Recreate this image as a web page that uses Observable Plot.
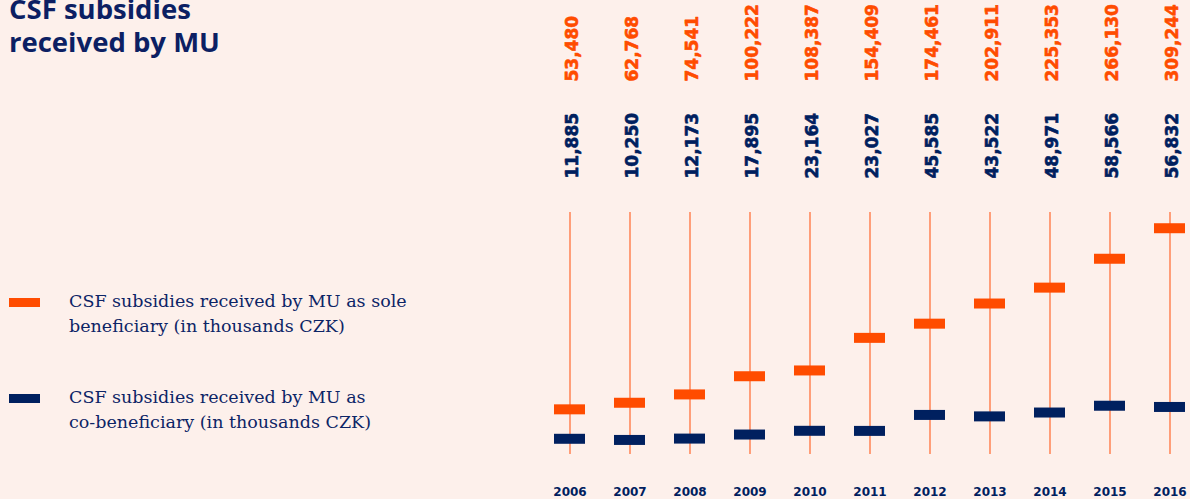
<!DOCTYPE html>
<html>
<head>
<meta charset="utf-8">
<script src="https://cdn.jsdelivr.net/npm/d3@7"></script>
<script src="https://cdn.jsdelivr.net/npm/@observablehq/plot@0.6"></script>
<style>
  html, body { margin: 0; padding: 0; background: #fdf0eb; }
  #wrap { position: relative; width: 1190px; height: 499px; background: #fdf0eb; overflow: hidden; }
  #chart { position: absolute; left: 0; top: 0; }
  .title { position: absolute; left: 9px; font-family: "Open Sans", sans-serif; font-weight: 700; font-size: 27.5px; line-height: 20px; color: #0c1f63; white-space: nowrap; }
  .leg { position: absolute; left: 0; font-family: "DejaVu Serif", serif; font-size: 17.5px; line-height: 25px; color: #0c2466; }
  .leg .sw { position: absolute; left: 9px; width: 31px; height: 9px; }
  .leg .tx { position: absolute; left: 69px; white-space: nowrap; }
</style>
</head>
<body>
<div id="wrap">
  <div id="chart"></div>
  <div class="title" id="t1" style="top:-1px"></div>
  <div class="title" id="t2" style="top:32px"></div>
  <div class="leg" id="leg1" style="top:0"></div>
  <div class="leg" id="leg2" style="top:0"></div>
</div>
<script>
const titleLines = ["CSF subsidies", "received by MU"];
const years = [2006, 2007, 2008, 2009, 2010, 2011, 2012, 2013, 2014, 2015, 2016];
const soleValues = [53480, 62768, 74541, 100222, 108387, 154409, 174461, 202911, 225353, 266130, 309244];
const coValues = [11885, 10250, 12173, 17895, 23164, 23027, 45585, 43522, 48971, 58566, 56832];
const seriesNames = [
  "CSF subsidies received by MU as sole<br>beneficiary (in thousands CZK)",
  "CSF subsidies received by MU as<br>co-beneficiary (in thousands CZK)"
];
const ORANGE = "#ff4c00";
const NAVY = "#00205f";

document.getElementById("t1").textContent = titleLines[0];
document.getElementById("t2").textContent = titleLines[1];

const data = years.map((y, i) => ({year: String(y), sole: soleValues[i], co: coValues[i]}));
const fmt = d3.format(",");

const chart = Plot.plot({
  width: 1190,
  height: 499,
  marginLeft: 552,
  marginRight: 3,
  marginTop: 212,
  marginBottom: 45,
  style: {background: "transparent", overflow: "visible"},
  x: {type: "band", domain: years.map(String), paddingInner: 0.49, paddingOuter: 0},
  y: {domain: [-10300, 331450], axis: null},
  marks: [
    Plot.ruleX(data, {x: "year", stroke: "#ff7a48", strokeWidth: 1.4}),
    Plot.tickY(data, {x: "year", y: "sole", stroke: ORANGE, strokeWidth: 10}),
    Plot.tickY(data, {x: "year", y: "co", stroke: NAVY, strokeWidth: 10}),
    Plot.axisX({tickSize: 0, tickPadding: 33, fontSize: 12, fontWeight: "bold", fill: NAVY, stroke: NAVY, strokeWidth: 0.3, fontFamily: "DejaVu Sans", label: null}),
    Plot.text(data, {x: "year", frameAnchor: "top", text: d => fmt(d.sole), rotate: -90, textAnchor: "start", lineAnchor: "middle", dy: -131, dx: 3, fill: ORANGE, stroke: ORANGE, strokeWidth: 0.6, fontSize: 17, fontWeight: "bold", fontFamily: "DejaVu Sans"}),
    Plot.text(data, {x: "year", frameAnchor: "top", text: d => fmt(d.co), rotate: -90, textAnchor: "start", lineAnchor: "middle", dy: -34, dx: 3, fill: NAVY, stroke: NAVY, strokeWidth: 0.6, fontSize: 17, fontWeight: "bold", fontFamily: "DejaVu Sans"})
  ]
});
document.getElementById("chart").appendChild(chart);

const legs = [
  {el: "leg1", color: ORANGE, swTop: 298, txTop: 289},
  {el: "leg2", color: NAVY, swTop: 394, txTop: 385}
];
legs.forEach((l, i) => {
  const el = document.getElementById(l.el);
  el.innerHTML = `<div class="sw" style="top:${l.swTop}px;background:${l.color}"></div><div class="tx" style="top:${l.txTop}px">${seriesNames[i]}</div>`;
});
</script>
</body>
</html>
